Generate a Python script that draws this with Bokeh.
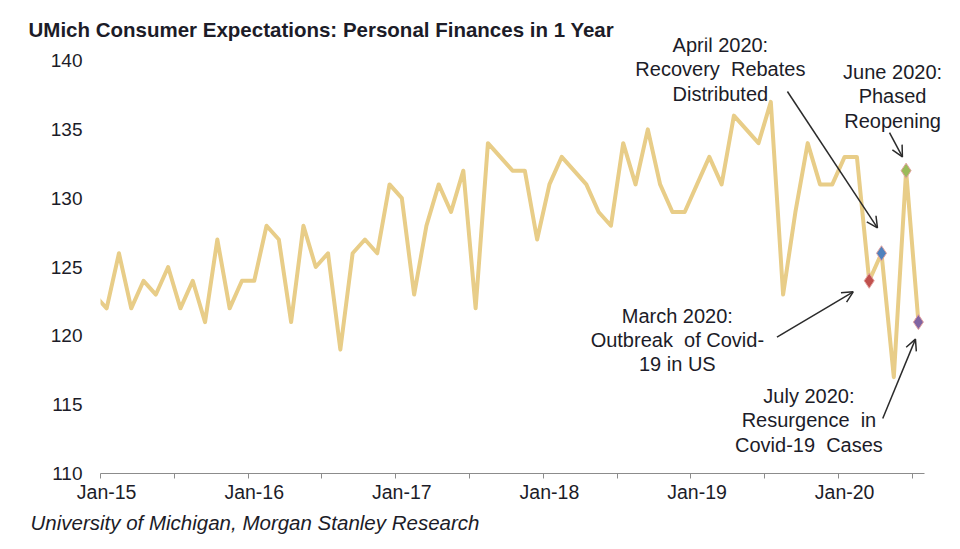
import pandas as pd
from bokeh.plotting import figure
from bokeh.models import Range1d, FixedTicker, Label, Arrow, OpenHead, Title
from bokeh.embed import file_html
from bokeh.resources import INLINE

# ---------------- data ----------------
first_month = "2014-12"   # series begins one month before the axis start (clipped)
index_values = [
    123,
    122, 126, 122, 124, 123, 125, 122, 124, 121, 127, 122, 124,   # 2015
    124, 128, 127, 121, 128, 125, 126, 119, 126, 127, 126, 131,   # 2016
    130, 123, 128, 131, 129, 132, 122, 134, 133, 132, 132, 127,   # 2017
    131, 133, 132, 131, 129, 128, 134, 131, 135, 131, 129, 129,   # 2018
    131, 133, 131, 136, 135, 134, 137, 123, 129, 134, 131, 131,   # 2019
    133, 133, 124, 126, 117, 132, 121,                            # 2020
]
event_months = ["2020-03", "2020-04", "2020-06", "2020-07"]
event_colors = ["#c0504d", "#4f81bd", "#9bbb59", "#8064a2"]
NB = "\u00a0"
event_texts = [
    f"March 2020:\nOutbreak {NB}of Covid-\n19 in US",
    f"April 2020:\nRecovery {NB}Rebates\nDistributed",
    "June 2020:\nPhased\nReopening",
    f"July 2020:\nResurgence {NB}in\nCovid-19 {NB}Cases",
]
x_labels = ["Jan-15", "Jan-16", "Jan-17", "Jan-18", "Jan-19", "Jan-20"]
y_ticks = [110, 115, 120, 125, 130, 135, 140]

title_text = "UMich Consumer Expectations: Personal Finances in 1 Year"
source_text = "University of Michigan, Morgan Stanley Research"

# ---------------- derived positions ----------------
axis_start = pd.Timestamp("2015-01-01")
axis_end = pd.Timestamp("2020-08-01")


def month_pos(ts):
    ts = pd.Timestamp(ts)
    return (ts.year - axis_start.year) * 12 + (ts.month - axis_start.month) + 0.5


dates = pd.date_range(first_month, periods=len(index_values), freq="MS")
xs = [month_pos(d) for d in dates]
n_months = int(month_pos(axis_end) - 0.5)

lookup = dict(zip([d.strftime("%Y-%m") for d in dates], index_values))
ev_x = [month_pos(m) for m in event_months]
ev_y = [lookup[m] for m in event_months]

# ---------------- figure ----------------
FONT = "Liberation Sans"
TXT = "#1c1c28"

# frame extends a little beyond the axes (top/right) so that annotation texts are not clipped
p = figure(width=958, height=545, output_backend="svg", toolbar_location=None,
           x_range=Range1d(0, 69.76), y_range=Range1d(y_ticks[0], 141.675),
           min_border_left=100, min_border_right=0, min_border_top=37, min_border_bottom=72)
p.outline_line_color = None
p.xgrid.visible = False
p.ygrid.visible = False
p.background_fill_color = "white"
p.border_fill_color = "white"

p.line(xs, index_values, line_color="#e8cd88", line_width=4, line_join="round")
p.scatter(ev_x, ev_y, marker="diamond", size=15, fill_color=event_colors,
          line_color="#e3a3a0", line_width=1)

# x axis: labels centred in January bins, tick marks every 6 months at bin edges
p.xaxis.bounds = (0, n_months)
p.xaxis.ticker = FixedTicker(ticks=[12 * k + 0.5 for k in range(len(x_labels))],
                             minor_ticks=[6 * k for k in range(n_months // 6 + 1)])
p.xaxis.major_label_overrides = {12 * k + 0.5: lab for k, lab in enumerate(x_labels)}
p.xaxis.major_tick_line_color = None
p.xaxis.major_tick_out = 0
p.xaxis.major_tick_in = 0
p.xaxis.minor_tick_out = 5
p.xaxis.minor_tick_in = 0
p.xaxis.minor_tick_line_color = "#8c8c8c"
p.xaxis.axis_line_color = "#8c8c8c"
p.xaxis.major_label_standoff = 2
p.xaxis.major_label_text_font = FONT
p.xaxis.major_label_text_font_size = "19.5px"
p.xaxis.major_label_text_color = TXT

p.yaxis.bounds = (y_ticks[0], y_ticks[-1])
p.yaxis.ticker = FixedTicker(ticks=y_ticks)
p.yaxis.axis_line_color = None
p.yaxis.major_tick_line_color = None
p.yaxis.minor_tick_line_color = None
p.yaxis.major_tick_out = 0
p.yaxis.major_label_standoff = 18
p.yaxis.major_label_text_font = FONT
p.yaxis.major_label_text_font_size = "19px"
p.yaxis.major_label_text_color = TXT

# title and source
p.title.text = title_text
p.title.align = "left"
p.title.offset = -72
p.title.standoff = -6
p.title.text_font = FONT
p.title.text_font_size = "20.5px"
p.title.text_font_style = "bold"
p.title.text_color = TXT

p.add_layout(Title(text=source_text, align="left", offset=-70, text_font=FONT,
                   text_font_size="20.5px", text_font_style="italic",
                   text_color=TXT, standoff=6), "below")

# annotations (positions in data coordinates: months from Jan-15, index value)
label_pos = [(46.9, 119.7), (50.4, 139.35), (64.4, 137.4), (57.6, 113.86)]
arrow_pos = [((55.0, 119.9), (61.2, 123.2)),
             ((55.85, 137.75), (63.17, 127.84)),
             ((64.15, 134.76), (65.2, 133.0)),
             ((63.6, 114.0), (66.26, 119.76))]

for txt, (lx, ly) in zip(event_texts, label_pos):
    p.add_layout(Label(x=lx, y=ly, text=txt, text_align="center", text_baseline="middle",
                       text_font=FONT, text_font_size="20px", text_color=TXT,
                       text_line_height=1.1))

for (x0, y0), (x1, y1) in arrow_pos:
    p.add_layout(Arrow(x_start=x0, y_start=y0, x_end=x1, y_end=y1,
                       line_color="#2b2b2b", line_width=1.5,
                       end=OpenHead(size=11, line_color="#2b2b2b", line_width=1.5)))

open("out.html", "w").write(file_html(p, INLINE))
